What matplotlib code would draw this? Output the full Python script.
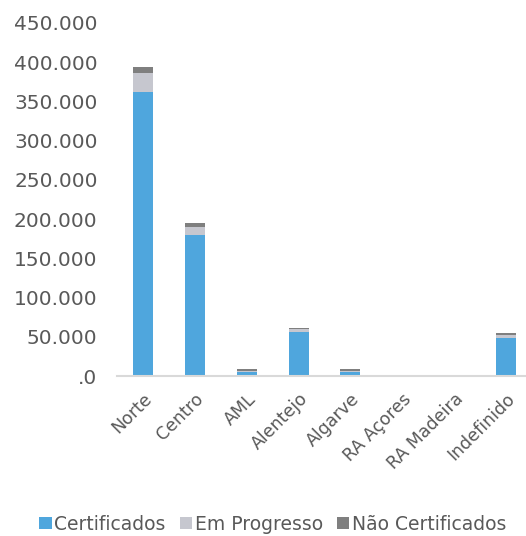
import matplotlib
matplotlib.use("Agg")
import matplotlib.pyplot as plt
from matplotlib.ticker import FuncFormatter
import numpy as np

categories = ["Norte", "Centro", "AML", "Alentejo", "Algarve", "RA Açores", "RA Madeira", "Indefinido"]
certificados = [362000, 180000, 4500, 56000, 4500, 0, 0, 49000]
em_progresso = [24000, 10000, 2000, 3500, 2500, 0, 0, 3500]
nao_certificados = [8500, 5000, 2000, 1500, 1500, 0, 0, 2000]
series_names = ["Certificados", "Em Progresso", "Não Certificados"]
y_ticks = [0, 50000, 100000, 150000, 200000, 250000, 300000, 350000, 400000, 450000]

colors = ["#4FA6DD", "#C6C7CF", "#7F7F7F"]
text_color = "#595959"

fig = plt.figure(figsize=(5.26, 5.36), dpi=100)
ax = fig.add_axes([117 / 526, 160 / 536, (532 - 117) / 526, (513 - 160) / 536])

x = np.arange(len(categories))
width = 0.385
bottom = np.zeros(len(categories))
for vals, name, col in zip([certificados, em_progresso, nao_certificados], series_names, colors):
    ax.bar(x, vals, width, bottom=bottom, color=col, label=name, zorder=2)
    bottom += np.array(vals)

ax.set_xlim(-0.5, len(categories) - 0.5)
ax.set_ylim(0, 450000)
ax.set_yticks(y_ticks)


def fmt(v, pos):
    if v == 0:
        return ".0"
    return f"{int(v):,}".replace(",", ".")


ax.yaxis.set_major_formatter(FuncFormatter(fmt))
ax.set_xticks(x)
ax.set_xticklabels(categories, rotation=45, ha="right", rotation_mode="anchor")

for s in ["top", "right", "left"]:
    ax.spines[s].set_visible(False)
ax.spines["bottom"].set_color("#D9D9D9")
ax.spines["bottom"].set_linewidth(1.5)

ax.tick_params(axis="y", length=0, pad=14, labelsize=14.5, labelcolor=text_color)
ax.tick_params(axis="x", length=0, pad=10, labelsize=12.5, labelcolor=text_color)

handles, labels = ax.get_legend_handles_labels()
fig.legend(handles, labels, loc="center", bbox_to_anchor=(0.519, 0.022), ncol=3,
           frameon=False, fontsize=13.5, labelcolor=text_color,
           handlelength=0.65, handleheight=0.65, handletextpad=0.15, columnspacing=0.75)

fig.savefig("out.png", dpi=100)
